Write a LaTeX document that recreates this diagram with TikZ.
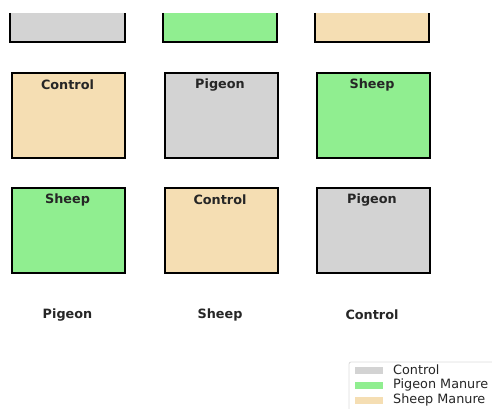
\documentclass[tikz,border=0pt]{standalone}
\usepackage{fontspec}
\setmainfont{DejaVu Sans}
\definecolor{ctrl}{HTML}{D3D3D3}
\definecolor{pig}{HTML}{90EE90}
\definecolor{shp}{HTML}{F5DEB3}
\definecolor{txt}{HTML}{262626}
\begin{document}
\begin{tikzpicture}[x=1pt,y=-1pt,
  plot/.style={draw=black,line width=1.8pt,minimum width=113pt,minimum height=85pt,anchor=north west,inner sep=0pt},
  lab/.style={font=\fontsize{12.8}{13}\selectfont\bfseries,text=txt},
  leg/.style={font=\fontsize{12.8}{13}\selectfont,text=txt,anchor=west,inner sep=0pt},
  patch/.style={minimum width=28pt,minimum height=7pt,inner sep=0pt,anchor=west}]
\useasboundingbox (0,0) rectangle (492,409);
% top row (clipped)
\fill[ctrl] (10,13) rectangle (125,42);
\fill[pig] (163,13) rectangle (277,42);
\fill[shp] (315,13) rectangle (429,42);
\draw[line width=1.8pt] (10,13) -- (10,42) -- (125,42) -- (125,13);
\draw[line width=1.8pt] (163,13) -- (163,42) -- (277,42) -- (277,13);
\draw[line width=1.8pt] (315,13) -- (315,42) -- (429,42) -- (429,13);
% row 2
\node[plot,fill=shp] (a1) at (11,72) {};
\node[plot,fill=ctrl] (a2) at (164,72) {};
\node[plot,fill=pig] (a3) at (316,72) {};
\node[lab] (t1) at (67.5,85) {Control};
\node[lab] (t2) at (220,85) {Pigeon};
\node[lab] (t3) at (372,85) {Sheep};
% row 3
\node[plot,fill=pig] (b1) at (11,187) {};
\node[plot,fill=shp] (b2) at (164,187) {};
\node[plot,fill=ctrl] (b3) at (316,187) {};
\node[lab] (u1) at (67.5,200) {Sheep};
\node[lab] (u2) at (220,200) {Control};
\node[lab] (u3) at (372,200) {Pigeon};
% bottom labels
\node[lab] (c1) at (67.5,315) {Pigeon};
\node[lab] (c2) at (220,315) {Sheep};
\node[lab] (c3) at (372,315) {Control};
% legend
\draw[draw=ctrl!80,fill=white,rounded corners=2pt,line width=0.8pt] (349,362) rectangle (500,415);
\node[patch,fill=ctrl] (p1) at (355,370) {};
\node[patch,fill=pig] (p2) at (355,385) {};
\node[patch,fill=shp] (p3) at (355,400) {};
\node[leg] (l1) at (393,370) {Control};
\node[leg] (l2) at (393,385) {Pigeon Manure};
\node[leg] (l3) at (393,400) {Sheep Manure};
\end{tikzpicture}
\end{document}
